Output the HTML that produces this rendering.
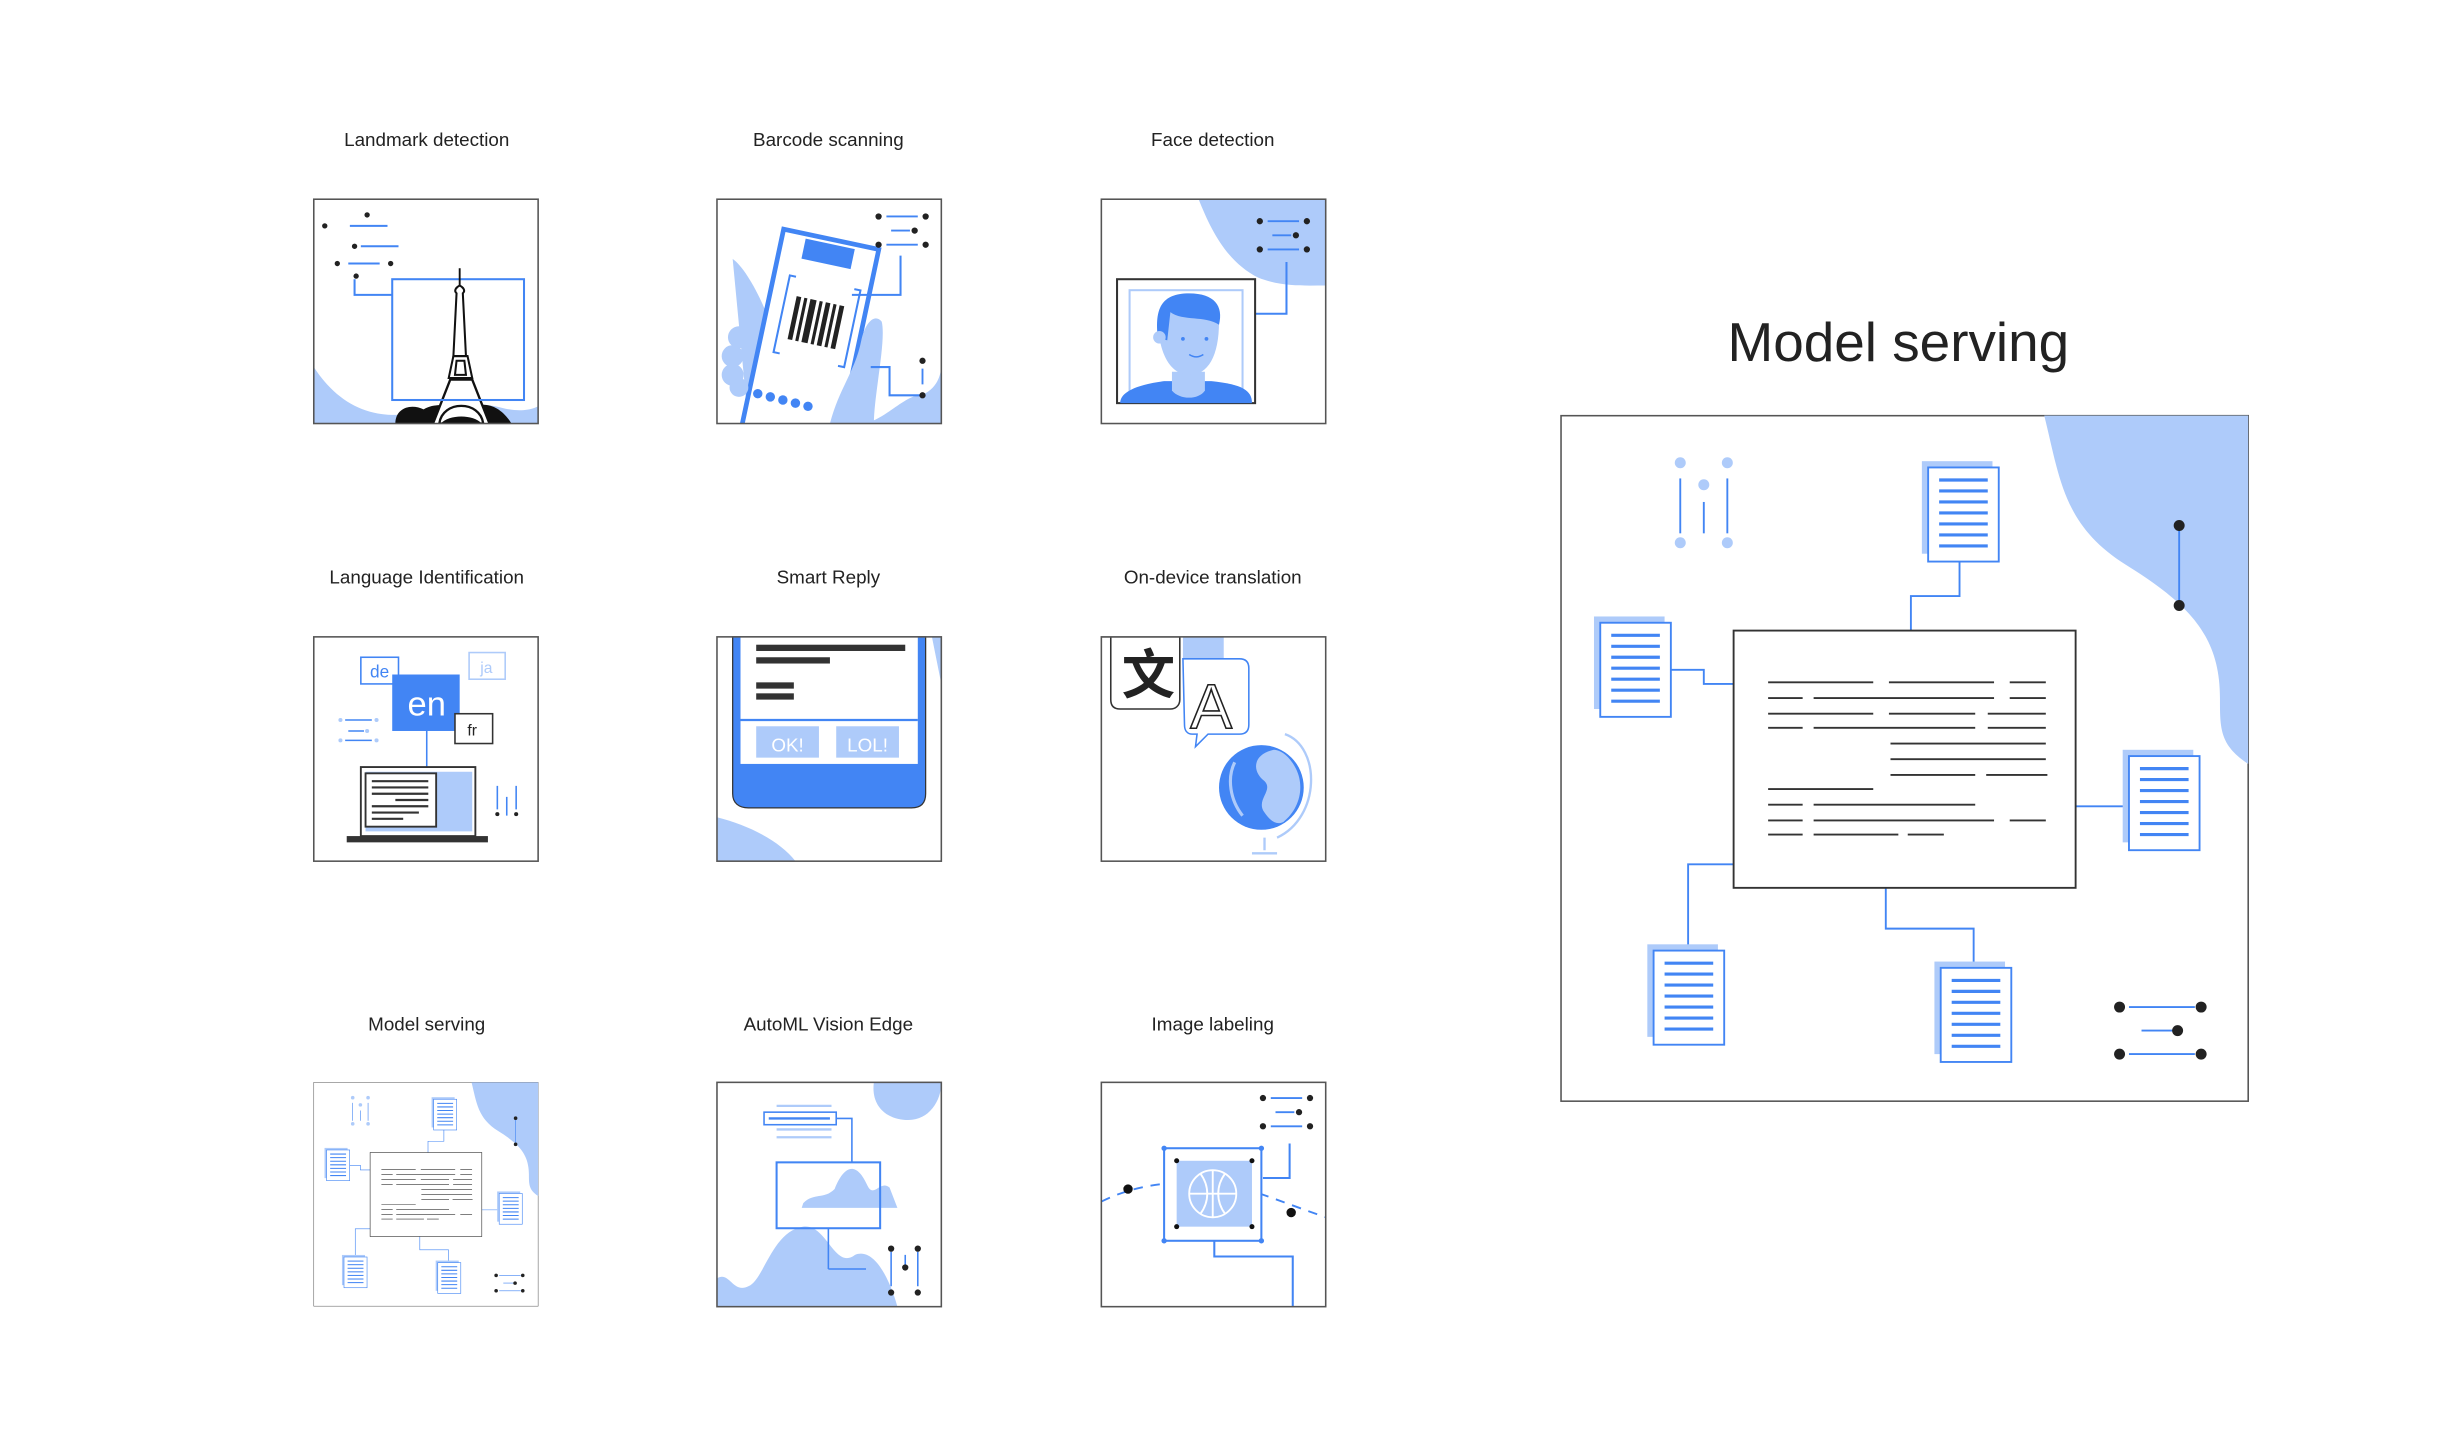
<!DOCTYPE html>
<html><head><meta charset="utf-8"><style>
html,body{margin:0;padding:0;background:#fff;}
svg{display:block;}
text{font-family:"Liberation Sans",sans-serif;fill:#222;}
</style></head><body>
<svg width="2460" height="1440" viewBox="0 0 1568 918" preserveAspectRatio="none" xmlns="http://www.w3.org/2000/svg">
<defs>
<clipPath id="cb"><rect x="0" y="0" width="143" height="143"/></clipPath>
<g id="doc">
 <rect x="-4" y="-4" width="45" height="59" fill="#aecbfa"/>
 <rect x="0" y="0" width="45" height="60" fill="#fff" stroke="#4285f4" stroke-width="1.2"/>
 <g stroke="#4285f4" stroke-width="2">
  <line x1="7" y1="8" x2="38" y2="8"/><line x1="7" y1="15" x2="38" y2="15"/><line x1="7" y1="22" x2="38" y2="22"/>
  <line x1="7" y1="29" x2="38" y2="29"/><line x1="7" y1="36" x2="38" y2="36"/><line x1="7" y1="43" x2="38" y2="43"/><line x1="7" y1="50" x2="38" y2="50"/>
 </g>
</g>
<g id="ms">
 <rect x="0" y="0" width="438" height="437" fill="#fff" stroke="#555" stroke-width="1"/>
 <path d="M308,0 C318,40 320,70 360,95 C400,120 420,140 420,180 C420,200 420,210 438,222 L438,0 Z" fill="#aecbfa"/>
 <line x1="394" y1="70" x2="394" y2="118" stroke="#4285f4" stroke-width="1.2"/>
 <circle cx="394" cy="70" r="3.5" fill="#222"/><circle cx="394" cy="121" r="3.5" fill="#222"/>
 <g stroke="#4285f4" stroke-width="1.2"><line x1="76" y1="40" x2="76" y2="75"/><line x1="91" y1="55" x2="91" y2="75"/><line x1="106" y1="40" x2="106" y2="75"/></g>
 <g fill="#aecbfa"><circle cx="76" cy="30" r="3.5"/><circle cx="106" cy="30" r="3.5"/><circle cx="91" cy="44" r="3.5"/><circle cx="76" cy="81" r="3.5"/><circle cx="106" cy="81" r="3.5"/></g>
 <g fill="none" stroke="#4285f4" stroke-width="1.2">
  <path d="M254,92 V115 H223 V137"/>
  <path d="M70,162 H91 V171 H111"/>
  <path d="M327,249 H362"/>
  <path d="M111,286 H81 V342"/>
  <path d="M207,301 V327 H263 V352"/>
 </g>
 <rect x="110" y="137" width="218" height="164" fill="#fff" stroke="#333" stroke-width="1.2"/>
 <g stroke="#333" stroke-width="1.2">
  <path d="M132,170h67M209,170h67M286,170h23"/>
  <path d="M132,180h22M161,180h115M286,180h23"/>
  <path d="M132,190h67M209,190h55M272,190h37"/>
  <path d="M132,199h22M161,199h103M272,199h37"/>
  <path d="M210,209h99M210,219h99M210,229h54M271,229h39"/>
  <path d="M132,238h67"/>
  <path d="M132,248h22M161,248h103"/>
  <path d="M132,258h22M161,258h115M286,258h23"/>
  <path d="M132,267h22M161,267h54M221,267h23"/>
 </g>
 <use href="#doc" x="234" y="33"/>
 <use href="#doc" x="25" y="132"/>
 <use href="#doc" x="362" y="217"/>
 <use href="#doc" x="59" y="341"/>
 <use href="#doc" x="242" y="352"/>
 <g stroke="#4285f4" stroke-width="1.2"><path d="M362,377h42M370,392h22M362,407h42"/></g>
 <g fill="#222"><circle cx="356" cy="377" r="3.5"/><circle cx="408" cy="377" r="3.5"/><circle cx="393" cy="392" r="3.5"/><circle cx="356" cy="407" r="3.5"/><circle cx="408" cy="407" r="3.5"/></g>
</g>
<g id="dots3">
 <g stroke="#4285f4" stroke-width="1.2"><path d="M5,0h20M8,9h12M5,18h20"/></g>
 <g fill="#222"><circle cx="0" cy="0" r="2"/><circle cx="30" cy="0" r="2"/><circle cx="23" cy="9" r="2"/><circle cx="0" cy="18" r="2"/><circle cx="30" cy="18" r="2"/></g>
</g>
</defs>

<g font-size="12" text-anchor="middle">
 <text x="272" y="93">Landmark detection</text>
 <text x="528" y="93">Barcode scanning</text>
 <text x="773" y="93">Face detection</text>
 <text x="272" y="372">Language Identification</text>
 <text x="528" y="372">Smart Reply</text>
 <text x="773" y="372">On-device translation</text>
 <text x="272" y="657">Model serving</text>
 <text x="528" y="657">AutoML Vision Edge</text>
 <text x="773" y="657">Image labeling</text>
</g>
<text x="1210" y="230" font-size="35" text-anchor="middle" fill="#333">Model serving</text>

<!-- Landmark -->
<g transform="translate(200,127)"><g clip-path="url(#cb)">
 <rect width="143" height="143" fill="#fff"/>
 <path d="M0,107 C15,130 35,140 60,137 C90,133 100,128 120,133 C135,137 143,132 143,132 V143 H0 Z" fill="#aecbfa"/>
 <path d="M52,143 C52,133 62,130 70,134 C80,128 92,134 100,133 C110,128 120,133 126,143 Z" fill="#111"/>
 <path d="M76,143 L87,115 H101 L112,143" fill="#fff" stroke="#111" stroke-width="1.5"/>
 <path d="M80,143 C82,128 106,128 108,143 Z" fill="#fff" stroke="#111" stroke-width="1.5"/>
 <path d="M81,143 C86,137 102,137 107,143 Z" fill="#111"/>
 <rect x="50" y="51" width="84" height="77" fill="none" stroke="#4285f4" stroke-width="1.3"/>
 <path d="M86,114 L89,100 H98 L101,114 Z M90,112 L91,103 H96 L97,112 Z" fill="#fff" stroke="#111" stroke-width="1.3"/>
 <path d="M89,100 L91,60 C89,58 91,56 93,55 C95,56 97,58 95,60 L97,100 Z" fill="#fff" stroke="#111" stroke-width="1.3"/>
 <line x1="93" y1="44" x2="93" y2="55" stroke="#111" stroke-width="1.2"/>
 <path d="M26,51 V61 H50" fill="none" stroke="#4285f4" stroke-width="1.3"/>
 <g stroke="#4285f4" stroke-width="1.3"><path d="M23,17h24M30,30h24M22,41h20"/></g>
 <g fill="#222"><circle cx="34" cy="10" r="1.7"/><circle cx="7" cy="17" r="1.7"/><circle cx="26" cy="30" r="1.7"/><circle cx="15" cy="41" r="1.7"/><circle cx="49" cy="41" r="1.7"/><circle cx="27" cy="49" r="1.7"/></g>
 </g><rect width="143" height="143" fill="none" stroke="#555" stroke-width="1"/>
</g>

<!-- Barcode -->
<g transform="translate(457,127)"><g clip-path="url(#cb)">
 <rect width="143" height="143" fill="#fff"/>
 <path d="M10,38 C20,45 35,75 40,100 L40,143 H20 Z" fill="#aecbfa"/>
 <g transform="rotate(12 50 80)">
  <rect x="30" y="22" width="62" height="130" fill="#fff" stroke="#4285f4" stroke-width="3"/>
  <rect x="45" y="25" width="32" height="13" fill="#4285f4"/>
  <path d="M44,50 H40 V100 H44 M82,50 H86 V100 H82" fill="none" stroke="#4285f4" stroke-width="1.3"/>
  <g fill="#222"><rect x="47" y="62" width="3" height="28"/><rect x="52" y="62" width="2" height="28"/><rect x="56" y="62" width="4" height="28"/><rect x="62" y="62" width="2" height="28"/><rect x="66" y="62" width="3" height="28"/><rect x="71" y="62" width="2" height="28"/><rect x="75" y="62" width="3" height="28"/></g>
 </g>
 <path d="M72,143 C78,120 88,110 92,90 C94,80 100,72 105,78 C108,90 100,125 100,143 Z" fill="#aecbfa"/>
 <path d="M95,143 C110,138 120,125 130,125 C138,122 143,115 143,105 V143 Z" fill="#aecbfa"/>
 <g fill="#aecbfa"><circle cx="14" cy="88" r="7"/><circle cx="10" cy="100" r="7"/><circle cx="10" cy="112" r="7"/><circle cx="14" cy="120" r="6"/></g>
 <g fill="#4285f4"><circle cx="26" cy="124" r="3"/><circle cx="34" cy="126" r="3"/><circle cx="42" cy="128" r="3"/><circle cx="50" cy="130" r="3"/><circle cx="58" cy="132" r="3"/></g>
 <path d="M86,61 H117 V36 M98,107 H110 V125 H131" fill="none" stroke="#4285f4" stroke-width="1.3"/>
 <line x1="131" y1="108" x2="131" y2="118" stroke="#4285f4" stroke-width="1.2"/>
 <circle cx="131" cy="103" r="2" fill="#222"/><circle cx="131" cy="125" r="2" fill="#222"/>
 <use href="#dots3" x="103" y="11"/>
 </g><rect width="143" height="143" fill="none" stroke="#555" stroke-width="1"/>
</g>

<!-- Face -->
<g transform="translate(702,127)"><g clip-path="url(#cb)">
 <rect width="143" height="143" fill="#fff"/>
 <path d="M62,0 C70,20 80,40 100,50 C115,56 130,55 143,55 V0 Z" fill="#aecbfa"/>
 <use href="#dots3" x="101" y="14"/>
 <path d="M118,40 V73 H98" fill="none" stroke="#4285f4" stroke-width="1.3"/>
 <rect x="10" y="51" width="88" height="79" fill="#fff" stroke="#333" stroke-width="1.3"/>
 <rect x="18" y="58" width="72" height="68" fill="none" stroke="#aecbfa" stroke-width="1.3"/>
 <path d="M12,130 C12,122 25,118 40,116 H70 C90,118 96,122 96,130 Z" fill="#4285f4"/>
 <path d="M45,110 V122 C50,128 62,128 66,122 V110 Z" fill="#aecbfa"/>
 <path d="M36,75 C36,100 45,112 56,112 C68,112 75,100 75,78 C72,66 40,66 36,75 Z" fill="#aecbfa"/>
 <path d="M36,88 C34,70 38,60 56,60 C72,60 78,68 75,80 C66,74 52,78 44,72 L42,90 Z" fill="#4285f4"/>
 <circle cx="37" cy="88" r="4" fill="#aecbfa"/>
 <circle cx="52" cy="89" r="1.2" fill="#4285f4"/><circle cx="67" cy="89" r="1.2" fill="#4285f4"/>
 <path d="M56,99 C59,101 62,101 65,99" fill="none" stroke="#4285f4" stroke-width="1"/>
 </g><rect width="143" height="143" fill="none" stroke="#555" stroke-width="1"/>
</g>

<!-- Language -->
<g transform="translate(200,406)">
 <rect width="143" height="143" fill="#fff"/>
 <rect x="30" y="13" width="24" height="17" fill="#fff" stroke="#4285f4" stroke-width="1"/>
 <text x="42" y="26" font-size="11" text-anchor="middle" style="fill:#4285f4">de</text>
 <rect x="99" y="10" width="23" height="17" fill="#fff" stroke="#aecbfa" stroke-width="1"/>
 <text x="110" y="23" font-size="10" text-anchor="middle" style="fill:#aecbfa">ja</text>
 <rect x="50" y="24" width="43" height="36" fill="#4285f4"/>
 <text x="72" y="50" font-size="22" text-anchor="middle" style="fill:#fff">en</text>
 <rect x="90" y="49" width="24" height="19" fill="#fff" stroke="#333" stroke-width="1"/>
 <text x="101" y="63" font-size="10" text-anchor="middle">fr</text>
 <line x1="72" y1="60" x2="72" y2="84" stroke="#4285f4" stroke-width="1"/>
 <g stroke="#4285f4" stroke-width="1"><path d="M20,53h17M22,60h10M20,66h17"/></g>
 <g fill="#aecbfa"><circle cx="40" cy="53" r="1.3"/><circle cx="34" cy="60" r="1.3"/><circle cx="40" cy="66" r="1.3"/><circle cx="17" cy="53" r="1.3"/><circle cx="17" cy="66" r="1.3"/></g>
 <rect x="30" y="83" width="73" height="44" fill="#fff" stroke="#333" stroke-width="1.2"/>
 <rect x="33" y="86" width="68" height="38" fill="#aecbfa"/>
 <rect x="33" y="87" width="45" height="34" fill="#fff" stroke="#333" stroke-width="1.2"/>
 <g stroke="#333" stroke-width="1.4"><path d="M37,92h36M37,96h36M37,100h36M52,104h21M37,108h36M37,112h30M37,116h20"/></g>
 <rect x="21" y="127" width="90" height="4" fill="#333"/>
 <g stroke="#4285f4" stroke-width="1"><path d="M117,95v15M123,102v12M129,95v15"/></g>
 <circle cx="117" cy="113" r="1.3" fill="#222"/><circle cx="129" cy="113" r="1.3" fill="#222"/>
 <rect width="143" height="143" fill="none" stroke="#555" stroke-width="1"/>
</g>

<!-- Smart reply -->
<g transform="translate(457,406)">
 <rect width="143" height="143" fill="#fff"/>
 <path d="M0,115 C20,120 40,130 50,143 H0 Z" fill="#aecbfa"/>
 <path d="M137,0 L143,0 V30 Z" fill="#aecbfa"/>
 <path d="M10,0 V100 C10,106 14,109 20,109 H124 C130,109 133,106 133,100 V0 Z" fill="#4285f4" stroke="#333" stroke-width="0.8"/>
 <rect x="15" y="0" width="113" height="81" fill="#fff"/>
 <line x1="15" y1="53" x2="128" y2="53" stroke="#4285f4" stroke-width="1.5"/>
 <rect x="25" y="5" width="95" height="4" fill="#333"/>
 <rect x="25" y="13" width="47" height="4" fill="#333"/>
 <rect x="25" y="29" width="24" height="4" fill="#333"/>
 <rect x="25" y="36" width="24" height="4" fill="#333"/>
 <rect x="25" y="57" width="40" height="20" fill="#aecbfa"/>
 <rect x="76" y="57" width="40" height="20" fill="#aecbfa"/>
 <text x="45" y="73" font-size="12" text-anchor="middle" style="fill:#fff">OK!</text>
 <text x="96" y="73" font-size="12" text-anchor="middle" style="fill:#fff">LOL!</text>
 <rect width="143" height="143" fill="none" stroke="#555" stroke-width="1"/>
</g>

<!-- Translation -->
<g transform="translate(702,406)"><g clip-path="url(#cb)">
 <rect width="143" height="143" fill="#fff"/>
 <rect x="52" y="0" width="26" height="14" fill="#aecbfa"/>
 <path d="M0,0 H50 V40 C50,44 47,46 44,46 H12 C8,46 6,44 6,40 V0 Z" fill="#fff" stroke="#333" stroke-width="1"/>
 <text x="30" y="36" font-size="34" text-anchor="middle" style="font-family:'Liberation Sans','Noto Sans CJK SC',sans-serif;fill:#222;font-weight:bold">文</text>
 <path d="M52,14 H88 C92,14 94,16 94,20 V56 C94,60 92,62 88,62 H68 L60,70 L61,62 H58 C55,62 53,60 53,56 Z" fill="none" stroke="#4285f4" stroke-width="1"/>
 <text x="70" y="58" font-size="40" text-anchor="middle" style="fill:#fff;stroke:#222;stroke-width:1">A</text>
 <circle cx="102" cy="96" r="27" fill="#4285f4"/>
 <path d="M110,72 C96,75 96,86 104,92 C110,98 98,104 104,112 C108,118 112,120 116,118 C126,110 130,96 124,84 C120,76 114,72 110,72 Z" fill="#aecbfa"/>
 <path d="M85,80 C80,90 82,104 90,114" fill="none" stroke="#aecbfa" stroke-width="2"/>
 <path d="M117,62 C140,70 140,115 112,128 M104,128 V136 M96,138 H112" fill="none" stroke="#aecbfa" stroke-width="1.5"/>
 </g><rect width="143" height="143" fill="none" stroke="#555" stroke-width="1"/>
</g>

<!-- Model serving small -->
<use href="#ms" transform="translate(200,690) scale(0.3265)" style="stroke-width:3"/>

<!-- AutoML -->
<g transform="translate(457,690)"><g clip-path="url(#cb)">
 <rect width="143" height="143" fill="#fff"/>
 <path d="M100,0 C98,15 108,24 122,24 C135,24 143,12 143,0 Z" fill="#aecbfa"/>
 <path d="M0,143 V125 C8,120 10,135 20,130 C30,126 35,95 55,92 C70,90 75,120 88,110 C100,105 110,125 115,143 Z" fill="#aecbfa"/>
 <path d="M55,77 C62,70 68,75 75,68 C80,55 88,48 96,66 C100,74 104,62 110,67 L115,80 H54 Z" fill="#aecbfa"/>
 <g stroke="#aecbfa" stroke-width="1.5"><path d="M38,15h35M38,30h35M38,35h35"/></g>
 <rect x="30" y="19" width="46" height="8" fill="#fff" stroke="#4285f4" stroke-width="1"/>
 <line x1="33" y1="23" x2="72" y2="23" stroke="#4285f4" stroke-width="1.5"/>
 <path d="M76,23 H86 V51 M71,119 H95 M71,119 V93" fill="none" stroke="#4285f4" stroke-width="1"/>
 <rect x="38" y="51" width="66" height="42" fill="none" stroke="#4285f4" stroke-width="1.3"/>
 <g stroke="#4285f4" stroke-width="1"><path d="M111,108v22M120,110v8M128,108v22"/></g>
 <g fill="#222"><circle cx="111" cy="106" r="2"/><circle cx="128" cy="106" r="2"/><circle cx="120" cy="118" r="2"/><circle cx="111" cy="134" r="2"/><circle cx="128" cy="134" r="2"/></g>
 </g><rect width="143" height="143" fill="none" stroke="#555" stroke-width="1"/>
</g>

<!-- Image labeling -->
<g transform="translate(702,690)"><g clip-path="url(#cb)">
 <rect width="143" height="143" fill="#fff"/>
 <use href="#dots3" x="103" y="10"/>
 <path d="M0,76 C20,66 40,64 55,64 M80,64 C100,70 120,78 143,86" fill="none" stroke="#4285f4" stroke-width="1.2" stroke-dasharray="6 5"/>
 <circle cx="17" cy="68" r="3" fill="#111"/><circle cx="121" cy="83" r="3" fill="#111"/>
 <path d="M120,39 V61 H103 M72,86 V111 H122 V143" fill="none" stroke="#4285f4" stroke-width="1.3"/>
 <rect x="40" y="42" width="62" height="59" fill="#fff" stroke="#4285f4" stroke-width="1.3"/>
 <rect x="48" y="50" width="48" height="42" fill="#aecbfa"/>
 <g fill="none" stroke="#fff" stroke-width="1.2"><circle cx="71" cy="71" r="15"/><path d="M56,71h30M71,56v30M63,58c6,8 6,18 0,26M79,58c-6,8 -6,18 0,26"/></g>
 <g fill="#4285f4"><circle cx="40" cy="42" r="1.7"/><circle cx="102" cy="42" r="1.7"/><circle cx="40" cy="101" r="1.7"/><circle cx="102" cy="101" r="1.7"/></g>
 <g fill="#111"><circle cx="48" cy="50" r="1.6"/><circle cx="96" cy="50" r="1.6"/><circle cx="48" cy="92" r="1.6"/><circle cx="96" cy="92" r="1.6"/></g>
 </g><rect width="143" height="143" fill="none" stroke="#555" stroke-width="1"/>
</g>

<!-- Big model serving -->
<use href="#ms" transform="translate(995,265)"/>
</svg>
</body></html>
